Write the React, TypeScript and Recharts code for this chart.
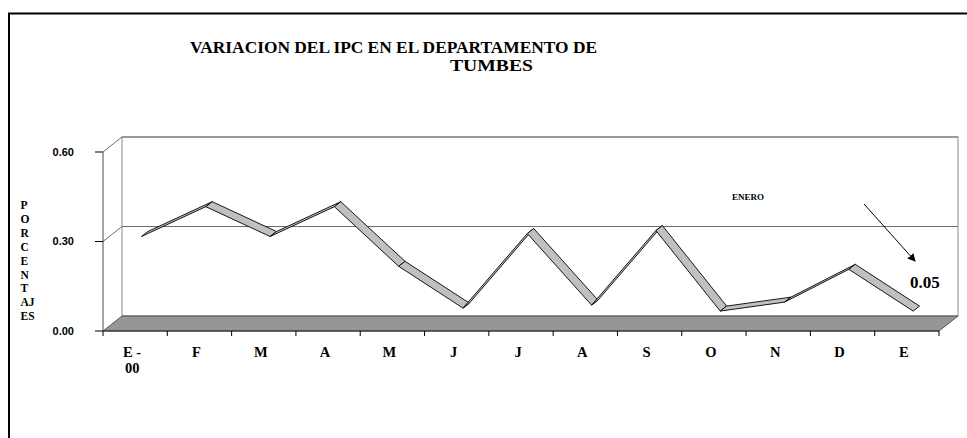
import {
  ComposedChart,
  XAxis,
  YAxis,
  Scatter,
  ReferenceArea,
  ReferenceLine,
} from "recharts";

// datos
const MESES = ["E-00", "F", "M", "A", "M", "J", "J", "A", "S", "O", "N", "D", "E"];
const IPC = [0.3, 0.4, 0.3, 0.4, 0.2, 0.06, 0.31, 0.07, 0.32, 0.05, 0.08, 0.19, 0.05];
const Y_TICKS = [0, 0.3, 0.6];
const GRID_Y = [0.3, 0.6];
const TITULO = ["VARIACION DEL IPC EN EL DEPARTAMENTO DE", "TUMBES"];
const EJE_Y = ["P", "O", "R", "C", "E", "N", "T", "AJ", "ES"];
const NOTA = "ENERO";
const VALOR_FINAL = "0.05";

const data = MESES.map((mes, i) => ({ mes, ipc: IPC[i] }));

const SERIF = "Liberation Serif, Times New Roman, serif";
const SANS = "Liberation Sans, Arial, sans-serif";

// ancho de cada categoría (área de trazado 836px / 13)
const MEDIA_BANDA = 836 / 13 / 2;

// profundidad del efecto 3D
const DX = 19;
const DY = -15;
const CINTA_A = { dx: 6.3, dy: -5 };
const CINTA_B = { dx: 12.7, dy: -10 };

function Caja(props: any) {
  const { y, height } = props;
  const x = props.x - MEDIA_BANDA;
  const width = props.width + 2 * MEDIA_BANDA;
  const x2 = x + width;
  const yb = y + height;
  return (
    <g>
      <rect x={x + DX} y={y + DY} width={width} height={height} fill="#fff" stroke="#8a8a8a" />
      <polygon
        points={`${x},${yb} ${x2},${yb} ${x2 + DX},${yb + DY} ${x + DX},${yb + DY}`}
        fill="#969696"
        stroke="#3a3a3a"
        strokeWidth={0.8}
      />
    </g>
  );
}

function LineaFondo(props: any) {
  const { x1, y1, x2 } = props;
  const a = Math.min(x1, x2);
  const b = Math.max(x1, x2);
  return (
    <polyline
      points={`${a},${y1} ${a + DX},${y1 + DY} ${b + DX},${y1 + DY}`}
      fill="none"
      stroke="#6e6e6e"
      strokeWidth={1}
    />
  );
}

function Cinta(props: any) {
  const pts: { x: number; y: number }[] = props.points || [];
  const segs = [];
  for (let i = 0; i < pts.length - 1; i++) {
    const p = pts[i];
    const q = pts[i + 1];
    segs.push(
      <polygon
        key={i}
        points={[
          `${p.x + CINTA_A.dx},${p.y + CINTA_A.dy}`,
          `${q.x + CINTA_A.dx},${q.y + CINTA_A.dy}`,
          `${q.x + CINTA_B.dx},${q.y + CINTA_B.dy}`,
          `${p.x + CINTA_B.dx},${p.y + CINTA_B.dy}`,
        ].join(" ")}
        fill="#c0c0c0"
        stroke="#000"
        strokeWidth={0.9}
        strokeLinejoin="round"
      />
    );
  }
  return <g>{segs}</g>;
}

function TickMes(props: any) {
  const { x, y, payload } = props;
  const last = payload?.index === MESES.length - 1;
  const lineas = String(payload.value) === "E-00" ? ["E -", "00"] : [String(payload.value)];
  return (
    <g>
      <line x1={x - MEDIA_BANDA} y1={y} x2={x - MEDIA_BANDA} y2={y + 5} stroke="#000" />
      {last && <line x1={x + MEDIA_BANDA} y1={y} x2={x + MEDIA_BANDA} y2={y + 5} stroke="#000" />}
      <text
        x={x - 3}
        y={y + 26}
        textAnchor="middle"
        style={{ fontFamily: SERIF, fontWeight: "bold", fontSize: 14.5 }}
        fill="#000"
      >
        {lineas.map((l, k) => (
          <tspan key={k} x={x - 3} dy={k ? 16 : 0}>
            {l}
          </tspan>
        ))}
      </text>
    </g>
  );
}

export default function App() {
  return (
    <div style={{ position: "fixed", left: 0, top: 0, width: 967, height: 438, background: "#fff" }}>
      <ComposedChart
        width={967}
        height={438}
        data={data}
        margin={{ top: 152, right: 28, bottom: 67, left: 0 }}
      >
        <XAxis
          dataKey="mes"
          height={40}
          padding={{ left: MEDIA_BANDA, right: MEDIA_BANDA }}
          tickLine={false}
          tickSize={0}
          tickMargin={0}
          interval={0}
          axisLine={{ stroke: "#222" }}
          tick={<TickMes />}
        />
        <YAxis
          domain={[0, 0.6]}
          ticks={Y_TICKS}
          width={103}
          tickSize={8}
          tickMargin={21}
          tickFormatter={(v: number) => v.toFixed(2)}
          axisLine={{ stroke: "#4a4a4a" }}
          tickLine={{ stroke: "#000" }}
          tick={{ fill: "#000", fontSize: 11, fontWeight: "bold", fontFamily: SANS }}
        />
        <ReferenceArea y1={0} y2={0.6} shape={<Caja />} />
        {GRID_Y.map((v) => (
          <ReferenceLine key={v} y={v} shape={<LineaFondo />} />
        ))}
        <Scatter
          dataKey="ipc"
          isAnimationActive={false}
          shape={() => <g />}
          line={<Cinta />}
          lineType="joint"
        />
      </ComposedChart>
      <svg
        width={967}
        height={438}
        style={{ position: "absolute", left: 0, top: 0, pointerEvents: "none" }}
      >
        <defs>
          <marker id="punta" markerWidth="8" markerHeight="8" refX="7" refY="4" orient="auto" markerUnits="userSpaceOnUse">
            <path d="M0,0 L8,4 L0,8 z" fill="#000" />
          </marker>
        </defs>
        <line x1={9} y1={13} x2={9} y2={438} stroke="#000" strokeWidth={2} />
        <line x1={8} y1={13.5} x2={967} y2={13.5} stroke="#000" strokeWidth={2} />
        <text x={190} y={53} style={{ fontFamily: SERIF, fontWeight: "bold", fontSize: 16 }} textLength={407} lengthAdjust="spacingAndGlyphs">
          {TITULO[0]}
        </text>
        <text x={450} y={71} style={{ fontFamily: SERIF, fontWeight: "bold", fontSize: 16 }} textLength={83} lengthAdjust="spacingAndGlyphs">
          {TITULO[1]}
        </text>
        {EJE_Y.map((l, i) => (
          <text key={i} x={20.5} y={209 + i * 13.9} style={{ fontFamily: SERIF, fontWeight: "bold", fontSize: 11.5 }}>
            {l}
          </text>
        ))}
        <text x={732} y={200} style={{ fontFamily: SERIF, fontWeight: "bold", fontSize: 9 }}>
          {NOTA}
        </text>
        <line x1={864} y1={204} x2={915} y2={261} stroke="#000" strokeWidth={1} markerEnd="url(#punta)" />
        <text x={910} y={288} style={{ fontFamily: SERIF, fontWeight: "bold", fontSize: 17 }}>
          {VALOR_FINAL}
        </text>
      </svg>
    </div>
  );
}
